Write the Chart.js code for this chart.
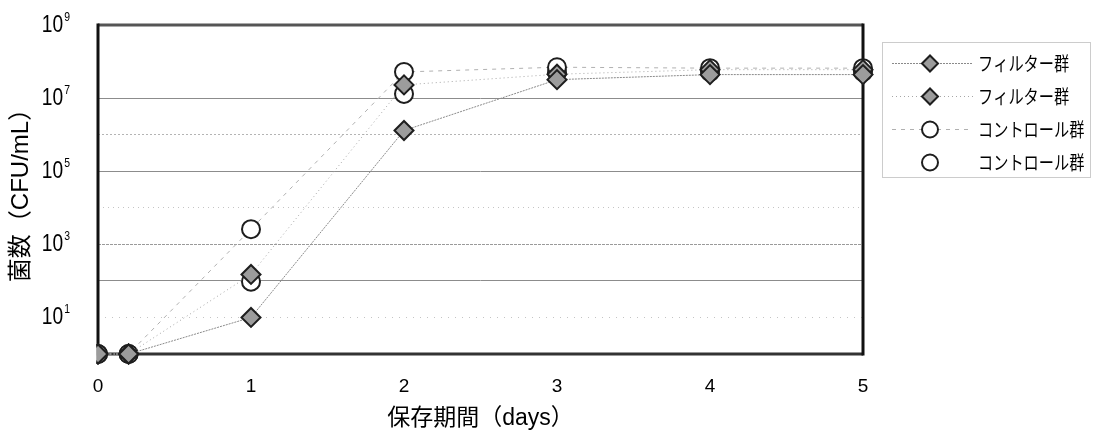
<!DOCTYPE html>
<html>
<head>
<meta charset="utf-8">
<script src="https://cdn.jsdelivr.net/npm/chart.js@4.4.1/dist/chart.umd.min.js"></script>
<style>
  html, body { margin: 0; padding: 0; background: #fff; }
  #wrap { width: 1098px; height: 439px; }
</style>
</head>
<body>
<div id="wrap"><canvas id="chart" width="1098" height="439"></canvas></div>
<script>
// data (CFU/mL, log scale)
const days = [0, 0.2, 1, 2, 3, 4, 5];
const filterA = [1, 1, 10, 1.3e6, 3.2e7, 4.4e7, 4.4e7];
const filterB = [1, 1, 150, 2.3e7, 4.5e7, 6.0e7, 6.0e7];
const controlA = [1, 1, 2600, 5.2e7, 7.0e7, 6.6e7, 6.6e7];
const controlB = [1, 1, 95, 1.3e7, 5.0e7, 5.2e7, 5.2e7];
const seriesNames = ['フィルター群', 'フィルター群', 'コントロール群', 'コントロール群'];

const xTicks = [0, 1, 2, 3, 4, 5];
const yTicks = [1, 1e1, 1e2, 1e3, 1e4, 1e5, 1e6, 1e7, 1e8, 1e9];
const yTickLabels = ['', '10^1', '', '10^3', '', '10^5', '', '10^7', '', '10^9'];

const toPoints = vals => days.map((d, i) => ({ x: d, y: vals[i] }));

const sans = '"Liberation Sans", Arial, sans-serif';
const jp = '"Liberation Sans", "Noto Sans CJK JP", sans-serif';

// thick frame round the plot area
const frame = {
  id: 'frame',
  beforeDatasetsDraw(chart) {
    const { ctx, chartArea: a } = chart;
    ctx.save();
    ctx.lineWidth = 3;
    ctx.strokeStyle = '#555';
    ctx.beginPath(); ctx.moveTo(a.left, a.top); ctx.lineTo(a.right, a.top); ctx.stroke();
    ctx.strokeStyle = '#333';
    ctx.beginPath(); ctx.moveTo(a.left, a.bottom); ctx.lineTo(a.right, a.bottom); ctx.stroke();
    ctx.strokeStyle = '#111';
    ctx.beginPath(); ctx.moveTo(a.left, a.top - 1.5); ctx.lineTo(a.left, a.bottom + 1.5); ctx.stroke();
    ctx.beginPath(); ctx.moveTo(a.right, a.top - 1.5); ctx.lineTo(a.right, a.bottom + 1.5); ctx.stroke();
    ctx.restore();
  }
};

// 10^n labels with a real superscript, narrow like the original
const powLabels = {
  id: 'powLabels',
  afterDraw(chart) {
    const { ctx } = chart;
    const y = chart.scales.y;
    const right = 69;
    const sx = 0.8;
    ctx.save();
    ctx.fillStyle = '#000';
    ctx.textAlign = 'left';
    ctx.textBaseline = 'alphabetic';
    y.ticks.forEach((t, i) => {
      const lab = yTickLabels[i];
      if (!lab) return;
      const [base, exp] = lab.split('^');
      const py = y.getPixelForValue(t.value);
      ctx.font = '13px ' + sans;
      const ew = ctx.measureText(exp).width * sx;
      ctx.font = '24px ' + sans;
      const bw = ctx.measureText(base).width * sx;
      ctx.save();
      ctx.translate(right - ew - bw, py + 7);
      ctx.scale(sx, 1);
      ctx.fillText(base, 0, 0);
      ctx.font = '13px ' + sans;
      ctx.fillText(exp, (bw + 1) / sx, -11);
      ctx.restore();
    });
    ctx.restore();
  }
};

// boxed legend with line samples
const legendBox = {
  id: 'legendBox',
  afterDraw(chart) {
    const { ctx } = chart;
    const rows = [63, 96, 129, 162];
    ctx.save();
    ctx.strokeStyle = '#999';
    ctx.lineWidth = 1;
    ctx.setLineDash([1, 1]);
    ctx.strokeRect(882.5, 42.5, 208, 135);
    chart.data.datasets.forEach((ds, i) => {
      const ly = rows[i] + 0.5;
      if (ds.showLine) {
        ctx.setLineDash(ds.borderDash || []);
        ctx.strokeStyle = ds.legendColor;
        ctx.lineWidth = 1;
        ctx.beginPath(); ctx.moveTo(892, ly); ctx.lineTo(973, ly); ctx.stroke();
      }
      ctx.setLineDash([]);
      ctx.fillStyle = ds.pointBackgroundColor;
      ctx.strokeStyle = ds.pointBorderColor;
      ctx.lineWidth = 2;
      Chart.helpers.drawPoint(ctx, { pointStyle: ds.pointStyle, radius: 8, borderWidth: 2, rotation: 0 }, 930, ly);
      ctx.save();
      ctx.translate(978, rows[i]);
      ctx.scale(0.8, 1);
      ctx.fillStyle = '#000';
      ctx.font = '19px "Noto Sans CJK JP", sans-serif';
      ctx.textBaseline = 'middle';
      ctx.fillText(ds.label, 0, 1);
      ctx.restore();
    });
    ctx.restore();
  }
};

const gridColors = ['rgba(0,0,0,0)', '#c4c4c4', '#8c8c8c', '#9a9a9a', '#c4c4c4', '#8c8c8c', '#b4b4b4', '#8c8c8c', 'rgba(0,0,0,0)', 'rgba(0,0,0,0)'];
const gridDash = [[], [1, 6], [], [3, 1], [1, 4], [], [2, 2], [], [], []];

function series(label, vals, style, showLine, lineColor, dash) {
  return {
    label: label,
    data: toPoints(vals),
    showLine: showLine,
    borderColor: lineColor,
    legendColor: lineColor,
    borderWidth: 1,
    borderDash: dash,
    pointStyle: style,
    pointRadius: style === 'rectRot' ? 9.5 : 9,
    pointHoverRadius: 9,
    pointBorderWidth: 2,
    pointBorderColor: '#1e1e1e',
    pointBackgroundColor: style === 'rectRot' ? '#9c9c9c' : '#fff',
    clip: { left: 1.5, top: false, right: false, bottom: false }
  };
}

new Chart(document.getElementById('chart'), {
  type: 'scatter',
  data: {
    datasets: [
      series(seriesNames[0], filterA, 'rectRot', true, '#8a8a8a', [2, 1]),
      series(seriesNames[1], filterB, 'rectRot', true, '#a6a6a6', [1, 3]),
      series(seriesNames[2], controlA, 'circle', true, '#b0b0b0', [4, 5]),
      series(seriesNames[3], controlB, 'circle', false, '#b0b0b0', [])
    ]
  },
  options: {
    responsive: false,
    animation: false,
    layout: { padding: { left: 0, top: 25, right: 235, bottom: 0 } },
    plugins: {
      legend: { display: false },
      tooltip: { enabled: false }
    },
    scales: {
      x: {
        type: 'linear',
        min: 0,
        max: 5,
        afterBuildTicks: s => { s.ticks = xTicks.map(v => ({ value: v })); },
        afterFit: s => { s.height = 85; },
        grid: { display: false, drawTicks: false },
        border: { display: false },
        ticks: { color: '#000', padding: 21, font: { family: sans, size: 19 } },
        title: {
          display: true,
          text: '保存期間（days）',
          color: '#000',
          font: { family: jp, size: 23 },
          padding: { top: 0, bottom: 7 }
        }
      },
      y: {
        type: 'logarithmic',
        min: 1,
        max: 1e9,
        afterBuildTicks: s => { s.ticks = yTicks.map(v => ({ value: v })); },
        afterFit: s => { s.width = 98; },
        grid: {
          drawTicks: false,
          lineWidth: 1,
          color: c => gridColors[c.index]
        },
        border: { display: false, dash: c => gridDash[c.index] || [] },
        ticks: { display: false },
        title: {
          display: true,
          text: '菌数（CFU/mL）',
          color: '#000',
          font: { family: jp, size: 24 },
          padding: { top: 7, bottom: 0 }
        }
      }
    }
  },
  plugins: [frame, powLabels, legendBox]
});
</script>
</body>
</html>
